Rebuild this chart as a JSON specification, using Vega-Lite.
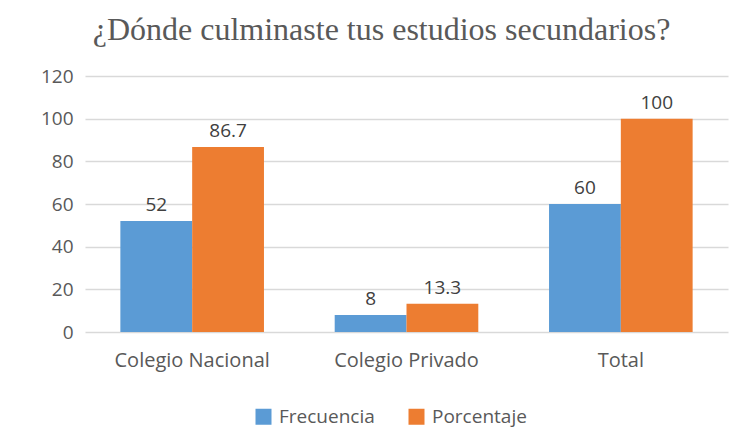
{
  "$schema": "https://vega.github.io/schema/vega-lite/v6.json",
  "width": 643,
  "height": 256,
  "padding": {"left": 40, "top": 14, "right": 10, "bottom": 10},
  "background": "white",
  "title": {
    "text": "¿Dónde culminaste tus estudios secundarios?",
    "font": "Liberation Serif",
    "fontSize": 32,
    "fontWeight": "normal",
    "color": "#595959",
    "anchor": "middle",
    "dx": -25,
    "offset": 20
  },
  "data": {
    "values": [
      {"categoria": "Colegio Nacional", "serie": "Frecuencia", "valor": 52, "etiqueta": "52"},
      {"categoria": "Colegio Nacional", "serie": "Porcentaje", "valor": 86.7, "etiqueta": "86.7"},
      {"categoria": "Colegio Privado", "serie": "Frecuencia", "valor": 8, "etiqueta": "8"},
      {"categoria": "Colegio Privado", "serie": "Porcentaje", "valor": 13.3, "etiqueta": "13.3"},
      {"categoria": "Total", "serie": "Frecuencia", "valor": 60, "etiqueta": "60"},
      {"categoria": "Total", "serie": "Porcentaje", "valor": 100, "etiqueta": "100"}
    ]
  },
  "encoding": {
    "x": {
      "field": "categoria", "type": "nominal", "sort": null,
      "scale": {"paddingInner": 0.33, "paddingOuter": 0.165},
      "axis": {"title": null, "labelAngle": 0, "domain": false, "ticks": false,
               "labelFont": "Open Sans", "labelFontSize": 20, "labelColor": "#595959", "labelPadding": 18}
    },
    "xOffset": {"field": "serie", "type": "nominal", "scale": {"paddingInner": 0}},
    "y": {
      "field": "valor", "type": "quantitative",
      "scale": {"domain": [0, 120]},
      "axis": {"title": null, "values": [0, 20, 40, 60, 80, 100, 120], "domain": false, "ticks": false,
               "labelFont": "Open Sans", "labelFontSize": 19, "labelColor": "#595959", "labelPadding": 12,
               "gridColor": "#d9d9d9", "gridWidth": 1.5}
    }
  },
  "layer": [
    {
      "mark": {"type": "bar"},
      "encoding": {
        "color": {
          "field": "serie", "type": "nominal",
          "scale": {"domain": ["Frecuencia", "Porcentaje"], "range": ["#5b9bd5", "#ed7d31"]},
          "legend": {"title": null, "orient": "none", "legendX": 169, "legendY": 331, "direction": "horizontal", "symbolType": "square",
                     "symbolSize": 256, "symbolStrokeWidth": 0, "labelFont": "Open Sans", "labelFontSize": 19,
                     "labelColor": "#595959", "columnPadding": 32, "labelOffset": 6}
        }
      }
    },
    {
      "mark": {"type": "text", "baseline": "bottom", "dy": -6, "font": "Open Sans", "fontSize": 19, "color": "#404040"},
      "encoding": {"text": {"field": "etiqueta"}}
    }
  ],
  "config": {"view": {"stroke": null}}
}
